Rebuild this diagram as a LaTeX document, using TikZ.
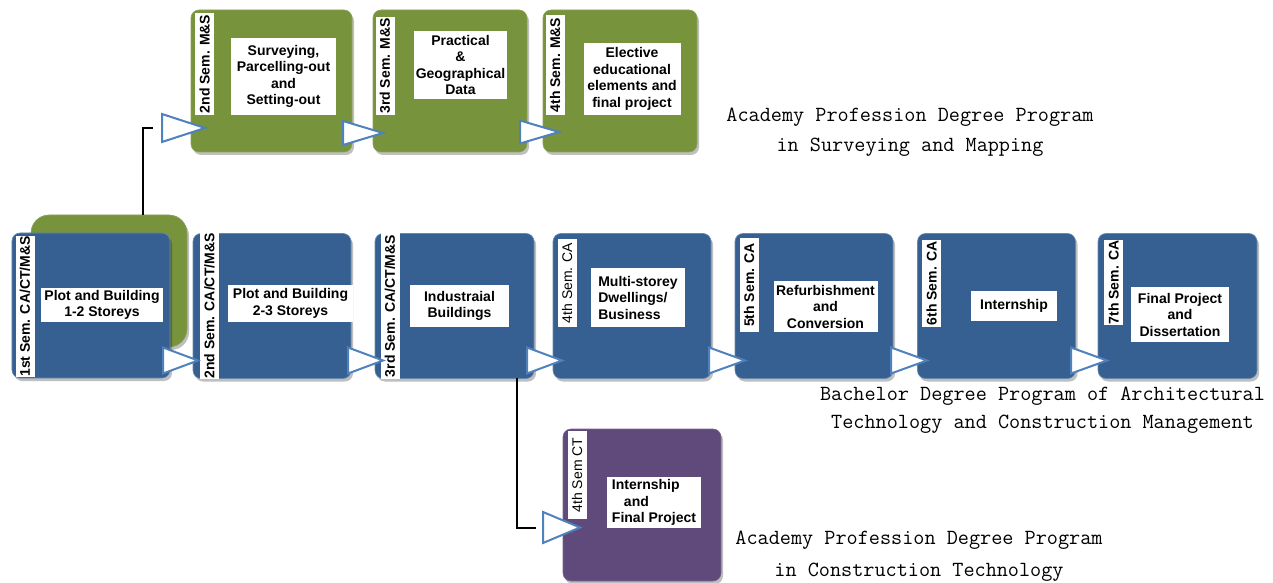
\documentclass[tikz,border=0pt]{standalone}
\usepackage{fontspec}
\setmainfont{Liberation Sans}
\usetikzlibrary{shadows}
\definecolor{cblue}{RGB}{55,96,146}
\definecolor{cgreen}{RGB}{119,147,60}
\definecolor{cpurple}{RGB}{96,74,123}
\definecolor{carrow}{RGB}{79,129,189}
\newcommand\mytri[5]{\coordinate (#1) at (#2,#3);
  \draw[tri] (#1) -- ++(-#4,-#5/2) -- ++(0,#5) -- cycle;}
\begin{document}
\begin{tikzpicture}[x=1bp,y=-1bp,
  box/.style={rounded corners=8bp, inner sep=0pt, line width=0.6bp,
    drop shadow={shadow xshift=2bp, shadow yshift=-3bp, opacity=0.25, fill=black}},
  bbox/.style={box, fill=cblue, draw=cblue!75!white, minimum width=158bp, minimum height=145bp},
  gbox/.style={box, fill=cgreen, draw=cgreen!85!white, minimum width=156bp, minimum height=142bp},
  pbox/.style={box, fill=cpurple, draw=cpurple!85!white, minimum width=158bp, minimum height=152bp},
  strip/.style={fill=white, rotate=90, inner xsep=0pt, inner ysep=0pt, minimum height=19bp,
    font=\fontsize{14bp}{16bp}\selectfont\bfseries},
  stripr/.style={strip, font=\fontsize{14bp}{16bp}\selectfont},
  lab/.style={fill=white, inner sep=0pt, align=center,
    font=\fontsize{14bp}{16.5bp}\selectfont\bfseries},
  tri/.style={draw=carrow, fill=white, line width=2bp, line join=miter},
  conn/.style={draw=black, line width=1.6bp},
  prog/.style={align=center, inner sep=0pt}
]
\useasboundingbox (0,0) rectangle (1273,583);

% green box behind the first semester
\node[box, fill=cgreen, draw=cgreen!85!white, rounded corners=18bp,
      minimum width=156bp, minimum height=132bp] (g0) at (109,281) {};

% top row (Surveying and Mapping)
\node[gbox, minimum width=161bp] (gA) at (271.5,81) {};
\node[gbox, minimum width=154bp] (gB) at (450,81) {};
\node[gbox, minimum width=154bp] (gC) at (620,81) {};

% main row
\node[bbox] (b1) at (91,305.5) {};
\node[bbox] (b2) at (272,306) {};
\node[bbox, minimum width=159bp] (b3) at (454.5,306) {};
\node[bbox] (b4) at (632,306) {};
\node[bbox] (b5) at (814,306) {};
\node[bbox] (b6) at (996.5,306) {};
\node[bbox, minimum width=159bp] (b7) at (1177.5,306) {};

% bottom (Construction Technology)
\node[pbox] (pp) at (642,505) {};

% semester strips
\node[strip, minimum width=137bp] (s1) at (25,306.5) {1st Sem. CA/CT/M\&S};
\node[strip, minimum width=145bp] (s2) at (209.5,306) {2nd Sem. CA/CT/M\&S};
\node[strip, minimum width=145bp] (s3) at (390,306) {3rd Sem. CA/CT/M\&S};
\node[stripr, minimum width=88bp] (s4) at (567,283) {4th Sem. CA};
\node[strip, minimum width=94bp] (s5) at (749,285) {5th Sem. CA};
\node[strip, minimum width=87bp] (s6) at (931.5,283.5) {6th Sem. CA};
\node[strip, minimum width=85bp] (s7) at (1113.5,282.5) {7th Sem. CA};
\node[strip, minimum width=102bp] (sA) at (204.5,64) {2nd Sem. M\&S};
\node[strip, minimum width=98bp] (sB) at (385,66) {3rd Sem. M\&S};
\node[strip, minimum width=100bp] (sC) at (555,65) {4th Sem. M\&S};
\node[stripr, minimum width=88bp] (sP) at (577,475) {4th Sem CT};

% course labels
\node[lab, minimum width=122bp, minimum height=34bp] (l1) at (102,305) {Plot and Building\\1-2 Storeys};
\node[lab, minimum width=125bp, minimum height=37bp] (l2) at (290.5,303.5) {Plot and Building\\2-3 Storeys};
\node[lab, minimum width=99bp, minimum height=42bp] (l3) at (459.5,306) {Industraial\\Buildings};
\node[lab, align=left, minimum width=94bp, minimum height=59bp] (l4) at (638,297.5) {Multi-storey\\Dwellings/\\Business};
\node[lab, minimum width=104bp, minimum height=51bp] (l5) at (825.5,306.5) {Refurbishment\\and\\Conversion};
\node[lab, minimum width=86bp, minimum height=30bp] (l6) at (1014,306) {Internship};
\node[lab, minimum width=98bp, minimum height=55bp] (l7) at (1180,314.5) {Final Project\\and\\Dissertation};
\node[lab, minimum width=105bp, minimum height=77bp] (lA) at (283.5,76.5) {Surveying,\\Parcelling-out\\and\\Setting-out};
\node[lab, minimum width=93bp, minimum height=68bp] (lB) at (460.5,65) {Practical\\\&\\Geographical\\Data};
\node[lab, minimum width=97bp, minimum height=72bp] (lC) at (632,79) {Elective\\educational\\elements and\\final project};
\node[lab, align=left, minimum width=94bp, minimum height=51bp] (lP) at (654,502.5) {Internship\\\hspace*{12bp}and\\Final Project};

% connector lines
\coordinate (k0) at (143,215);
\coordinate (k1) at (153,128);
\draw[conn] (k0) |- (k1);
\coordinate (m0) at (517,378);
\coordinate (m1) at (536,528);
\draw[conn] (m0) |- (m1);

% arrow heads
\mytri{a1}{198}{360.5}{35}{26}
\mytri{a2}{383}{360.5}{35}{26}
\mytri{a3}{562}{360.5}{35}{26}
\mytri{a4}{745}{360.5}{36}{26}
\mytri{a5}{927}{360.5}{36}{26}
\mytri{a6}{1107}{360.5}{36}{26}
\mytri{tA}{205}{128}{43}{28}
\mytri{tB}{383}{133}{40}{24}
\mytri{tC}{559}{132}{39}{23}
\mytri{tP}{580}{527.5}{37}{31}

% programme titles
\node[prog, font=\fontsize{21.6bp}{30bp}\selectfont\ttfamily] (t1) at (910,132)
  {Academy Profession Degree Program\\in Surveying and Mapping};
\node[prog, font=\fontsize{21.6bp}{28bp}\selectfont\ttfamily] (t2) at (1042.5,410)
  {Bachelor Degree Program of Architectural\\Technology and Construction Management};
\node[prog, font=\fontsize{21.6bp}{32bp}\selectfont\ttfamily] (t3) at (919,556)
  {Academy Profession Degree Program\\in Construction Technology};
\end{tikzpicture}
\end{document}
